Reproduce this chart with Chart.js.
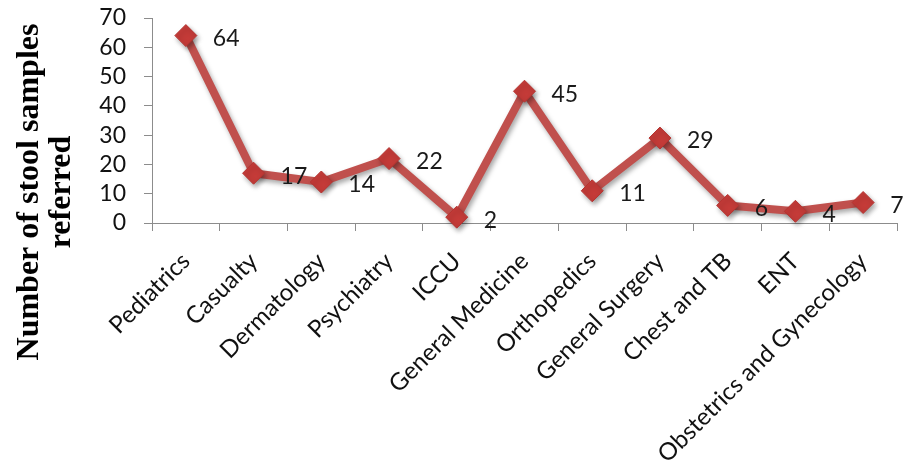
<!DOCTYPE html>
<html>
<head>
<meta charset="utf-8">
<script src="https://cdn.jsdelivr.net/npm/chart.js@4/dist/chart.umd.min.js"></script>
<style>
  html, body { margin: 0; padding: 0; background: #fff; }
  #wrap { width: 909px; height: 474px; }
</style>
</head>
<body>
<div id="wrap"><canvas id="chartCanvas" width="909" height="474"></canvas></div>
<script>
const departments = [
  "Pediatrics", "Casualty", "Dermatology", "Psychiatry", "ICCU",
  "General Medicine", "Orthopedics", "General Surgery", "Chest and TB",
  "ENT", "Obstetrics and Gynecology"
];
const samples = [64, 17, 14, 22, 2, 45, 11, 29, 6, 4, 7];
const yTicks = [0, 10, 20, 30, 40, 50, 60, 70];
const yTitle = ["Number of stool samples", "referred"];

const lineRed = "#C0504D";
const axisGrey = "#8C8C8C";

// value labels to the right of each marker
const valueLabels = {
  id: "valueLabels",
  afterDatasetsDraw(chart) {
    const ctx = chart.ctx;
    const meta = chart.getDatasetMeta(0);
    ctx.save();
    ctx.font = "23px Lato";
    ctx.fillStyle = "#1a1a1a";
    ctx.textAlign = "left";
    ctx.textBaseline = "middle";
    meta.data.forEach((pt, i) => {
      ctx.fillText(String(samples[i]), pt.x + 27, pt.y + 3);
    });
    ctx.restore();
  }
};

// shadow under the line and markers
const lineShadow = {
  id: "lineShadow",
  beforeDatasetDraw(chart) {
    const ctx = chart.ctx;
    ctx.save();
    ctx.shadowColor = "rgba(0,0,0,0.35)";
    ctx.shadowBlur = 5;
    ctx.shadowOffsetX = 2;
    ctx.shadowOffsetY = 3;
  },
  afterDatasetDraw(chart) {
    chart.ctx.restore();
  }
};

// y axis title, centred on the whole figure height
const sideTitle = {
  id: "sideTitle",
  afterDraw(chart) {
    const ctx = chart.ctx;
    ctx.save();
    ctx.font = "bold 32px 'Liberation Serif'";
    ctx.fillStyle = "#000";
    ctx.textAlign = "center";
    ctx.textBaseline = "middle";
    ctx.translate(0, 192);
    ctx.rotate(-Math.PI / 2);
    ctx.fillText(yTitle[0], 0, 30);
    ctx.fillText(yTitle[1], 0, 62);
    ctx.restore();
  }
};

new Chart(document.getElementById("chartCanvas").getContext("2d"), {
  type: "line",
  data: {
    labels: departments,
    datasets: [{
      data: samples,
      borderColor: lineRed,
      borderWidth: 8,
      backgroundColor: "#C43B38",
      pointStyle: "rectRot",
      pointRadius: 11,
      pointBorderColor: "#B53431",
      pointBorderWidth: 1,
      tension: 0,
      clip: false
    }]
  },
  options: {
    responsive: false,
    animation: false,
    layout: { padding: { top: 18, right: 4, left: 0, bottom: 0 } },
    plugins: {
      legend: { display: false },
      tooltip: { enabled: false }
    },
    scales: {
      x: {
        offset: true,
        grid: {
          offset: true,
          drawOnChartArea: false,
          drawTicks: true,
          tickLength: 8,
          color: axisGrey
        },
        border: { color: axisGrey, width: 1 },
        ticks: {
          autoSkip: false,
          minRotation: 45,
          maxRotation: 45,
          padding: 16,
          color: "#111",
          font: { family: "Lato", size: 24 }
        },
        afterFit(scale) {
          scale.height = 251;
          scale.paddingLeft = 0;
          scale.paddingRight = 0;
        }
      },
      y: {
        min: 0,
        max: 70,
        afterBuildTicks(scale) { scale.ticks = yTicks.map(v => ({ value: v })); },
        grid: {
          drawOnChartArea: false,
          drawTicks: true,
          tickLength: 8,
          color: axisGrey
        },
        border: { color: axisGrey, width: 1 },
        ticks: {
          autoSkip: false,
          padding: 18,
          color: "#111",
          font: { family: "Lato", size: 23 }
        },
        afterFit(scale) {
          scale.width = 152;
          scale.paddingTop = 0;
          scale.paddingBottom = 0;
        }
      }
    }
  },
  plugins: [lineShadow, valueLabels, sideTitle]
});
</script>
</body>
</html>
